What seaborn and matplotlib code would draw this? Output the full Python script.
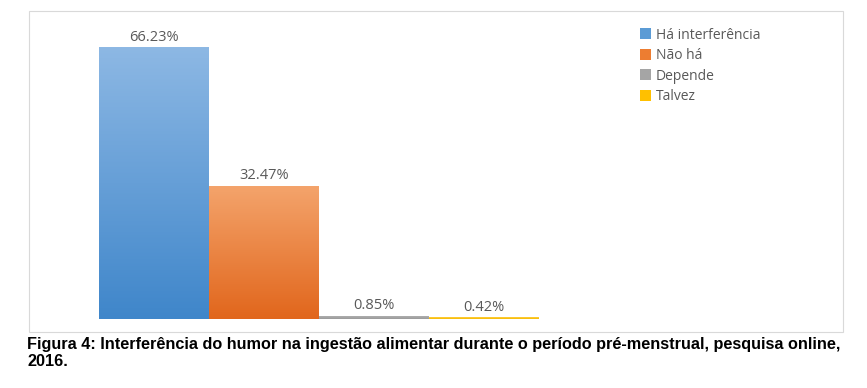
import matplotlib.pyplot as plt
import matplotlib.patches as mpatches
from matplotlib.colors import LinearSegmentedColormap
import seaborn as sns
import numpy as np
import pandas as pd

categorias = ["Há interferência", "Não há", "Depende", "Talvez"]
valores = [66.23, 32.47, 0.85, 0.42]
cores = ["#5B9BD5", "#ED7D31", "#A5A5A5", "#FFC000"]
cores_topo = ["#8DB8E4", "#F4A46C", "#B5B5B5", "#FFD040"]
cores_base = ["#3F86CA", "#E1661C", "#9A9A9A", "#F5B800"]

W, H = 867, 388
fig = plt.figure(figsize=(W / 100, H / 100), dpi=100)

def px(x0, y0, x1, y1):
    # pixel box -> figure fraction [left, bottom, width, height]
    return [x0 / W, 1 - y1 / H, (x1 - x0) / W, (y1 - y0) / H]

# chart area border
borda = mpatches.Rectangle((29 / W, 1 - 332 / H), (843 - 29) / W, (332 - 11) / H,
                           transform=fig.transFigure, fill=False,
                           edgecolor="#D9D9D9", linewidth=0.8)
fig.patches.append(borda)

ymax = 70
topo = 319 - ymax * (319 - 47) / 66.23
ax = fig.add_axes(px(99, topo, 539, 319))

df = pd.DataFrame({"cat": categorias, "val": valores})
sns.barplot(data=df, x="cat", y="val", hue="cat", palette=cores,
            width=1.0, legend=False, ax=ax, saturation=1)
ax.axis("off")

# gradient fill for each bar
for patch, c0, c1, v in zip(ax.patches, cores_topo, cores_base, valores):
    x = patch.get_x()
    w = patch.get_width()
    cmap = LinearSegmentedColormap.from_list("g", [c0, c1])
    grad = np.linspace(0, 1, 256).reshape(-1, 1)
    im = ax.imshow(grad, cmap=cmap, aspect="auto",
                   extent=[x, x + w, 0, max(v, 0.3)], origin="upper", zorder=3)
    im.set_clip_path(patch)
    patch.set_edgecolor("none")
    ax.text(x + w / 2, max(v, 0.3) + 0.6, f"{v:.2f}%", ha="center", va="bottom",
            fontsize=10.5, color="#595959", family="Open Sans", zorder=4)
ax.set_xlim(-0.5, 3.5)
ax.set_ylim(0, ymax)

# legend
handles = [mpatches.Patch(facecolor=c, edgecolor="none") for c in cores]
leg = fig.legend(handles, categorias, loc="upper left",
                 bbox_to_anchor=(634 / W, 1 - 22 / H), frameon=False,
                 prop={"family": "Open Sans", "size": 10},
                 handlelength=0.85, handleheight=0.85, handletextpad=0.3,
                 labelspacing=0.4, borderaxespad=0)
for t in leg.get_texts():
    t.set_color("#595959")

# caption
fig.text(27 / W, 1 - 345 / H,
         "Figura 4: Interferência do humor na ingestão alimentar durante o período pré-menstrual, pesquisa online,",
         ha="left", va="center", fontsize=11.7, fontweight="bold",
         family="Liberation Sans", color="black")
fig.text(27 / W, 1 - 362 / H, "2016.", ha="left", va="center", fontsize=11.7,
         fontweight="bold", family="Liberation Sans", color="black")

fig.savefig("out.png", dpi=100)
